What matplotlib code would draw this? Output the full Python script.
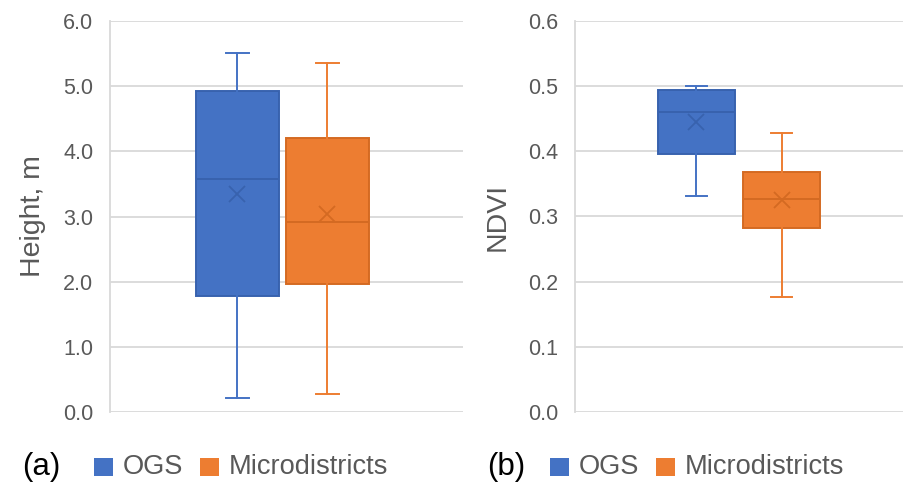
import matplotlib
matplotlib.use("Agg")
import matplotlib.pyplot as plt
from matplotlib.patches import Rectangle

plt.rcParams['font.family'] = ['Liberation Sans', 'DejaVu Sans']

groups = ["OGS", "Microdistricts"]
fills = ["#4472C4", "#ED7D31"]
edges = ["#3862AE", "#D46A22"]

# five-number summaries + mean
height_lo = [0.22, 0.27]
height_q1 = [1.78, 1.97]
height_med = [3.57, 2.92]
height_q3 = [4.93, 4.20]
height_hi = [5.51, 5.36]
height_mean = [3.34, 3.04]

ndvi_lo = [0.332, 0.176]
ndvi_q1 = [0.396, 0.283]
ndvi_med = [0.461, 0.327]
ndvi_q3 = [0.494, 0.368]
ndvi_hi = [0.500, 0.428]
ndvi_mean = [0.445, 0.325]

height_ticks = [0.0, 1.0, 2.0, 3.0, 4.0, 5.0, 6.0]
ndvi_ticks = [0.0, 0.1, 0.2, 0.3, 0.4, 0.5, 0.6]

W, H = 904, 490
fig = plt.figure(figsize=(W / 100, H / 100), dpi=100)


def make_stats(lo, q1, med, q3, hi, mean):
    return [dict(whislo=lo[i], q1=q1[i], med=med[i], q3=q3[i], whishi=hi[i],
                 mean=mean[i], fliers=[], label=groups[i]) for i in range(len(groups))]


def draw_panel(rect, stats, positions, width, ticks, fmt, ylabel, label_x):
    ax = fig.add_axes(rect)
    for i, st in enumerate(stats):
        ax.bxp([st], positions=[positions[i]], widths=width, showmeans=True,
               patch_artist=True, capwidths=0.065,
               boxprops=dict(facecolor=fills[i], edgecolor=edges[i], linewidth=1.4),
               medianprops=dict(color=edges[i], linewidth=1.4),
               whiskerprops=dict(color=fills[i], linewidth=1.4),
               capprops=dict(color=fills[i], linewidth=1.4),
               meanprops=dict(marker="x", markeredgecolor=edges[i], markersize=11,
                              markeredgewidth=1.3),
               zorder=3)
    ax.set_xlim(0, 1)
    ax.set_ylim(ticks[0], ticks[-1])
    ax.set_yticks(ticks)
    ax.set_yticklabels([fmt.format(t) for t in ticks])
    ax.set_xticks([])
    ax.grid(axis="y", color="#D9D9D9", linewidth=1.3, zorder=0)
    for s in ["top", "right", "bottom"]:
        ax.spines[s].set_visible(False)
    ax.spines["left"].set_color("#D9D9D9")
    ax.spines["left"].set_linewidth(1.3)
    ax.tick_params(axis="y", length=0, pad=12, labelsize=15.5, labelcolor="#595959")
    ax.set_ylabel(ylabel, fontsize=20.5, color="#595959")
    ax.yaxis.set_label_coords(label_x, 0.5)
    return ax


# left panel: Height
draw_panel([110 / W, 1 - 412 / H, 353 / W, 391 / H],
           make_stats(height_lo, height_q1, height_med, height_q3, height_hi, height_mean),
           [0.361, 0.616], 0.235, height_ticks, "{:.1f}", "Height, m", -0.18)

# right panel: NDVI
draw_panel([575 / W, 1 - 412 / H, 329 / W, 391 / H],
           make_stats(ndvi_lo, ndvi_q1, ndvi_med, ndvi_q3, ndvi_hi, ndvi_mean),
           [0.369, 0.628], 0.236, ndvi_ticks, "{:.1f}", "NDVI", -0.195)


# legends below each panel
def legend_row(tag, x_tag, x_sq1, x_sq2):
    yc = 1 - 467 / H
    fig.text(x_tag / W, yc, tag, fontsize=22.5, color="black", va="center", ha="left")
    for xs, name, col in [(x_sq1, groups[0], fills[0]), (x_sq2, groups[1], fills[1])]:
        fig.patches.append(Rectangle((xs / W, yc - 9 / H), 19 / W, 18 / H,
                                     transform=fig.transFigure, facecolor=col,
                                     edgecolor=col, linewidth=0))
        fig.text((xs + 29) / W, yc, name, fontsize=19.6, color="#595959",
                 va="center", ha="left")


legend_row("(a)", 22, 94, 200)
legend_row("(b)", 487, 550, 656)

fig.savefig("out.png", dpi=100)
